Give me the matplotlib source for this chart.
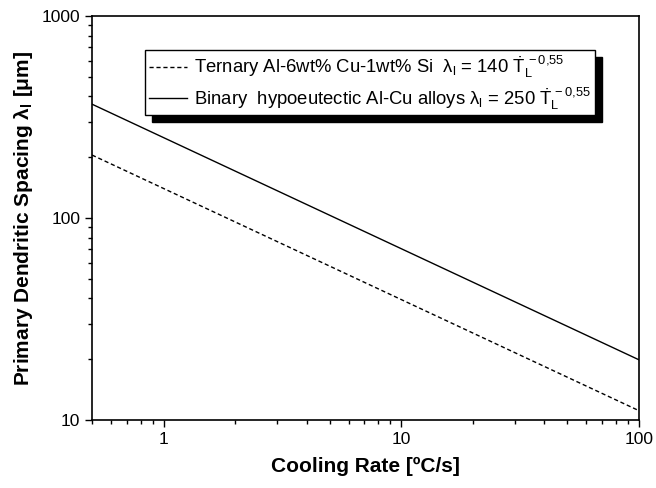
import numpy as np
import matplotlib
matplotlib.use("Agg")
import matplotlib.pyplot as plt
from matplotlib.ticker import FixedLocator, NullFormatter, LogLocator

plt.rcParams['font.family'] = ['Liberation Sans', 'DejaVu Sans']
plt.rcParams['mathtext.fontset'] = 'custom'
plt.rcParams['mathtext.rm'] = 'Liberation Sans'
plt.rcParams['mathtext.it'] = 'Liberation Sans:italic'
plt.rcParams['mathtext.bf'] = 'Liberation Sans:bold'

# Data: power laws lambda = A * Tdot^b
cooling_rate = np.logspace(np.log10(0.5), np.log10(100), 200)
ternary_coef = 140
binary_coef = 250
exponent = -0.55
series_labels = [
    r"Ternary Al-6wt% Cu-1wt% Si  λ$_\mathrm{l}$ = 140 $\mathrm{\dot{T}_L^{\,-0{,}55}}$",
    r"Binary  hypoeutectic Al-Cu alloys λ$_\mathrm{l}$ = 250 $\mathrm{\dot{T}_L^{\,-0{,}55}}$",
]
x_ticks = [1, 10, 100]
x_ticklabels = ["1", "10", "100"]
y_ticks = [10, 100, 1000]
y_ticklabels = ["10", "100", "1000"]

fig = plt.figure(figsize=(6.56, 4.88), dpi=100)
ax = fig.add_axes([92/656, 1-420/488, (639-92)/656, (420-16)/488])

ax.plot(cooling_rate, ternary_coef * cooling_rate**exponent, 'k--', lw=1.0,
        dashes=(3, 2), label=series_labels[0])
ax.plot(cooling_rate, binary_coef * cooling_rate**exponent, 'k-', lw=1.0,
        label=series_labels[1])

ax.set_xscale('log')
ax.set_yscale('log')
ax.set_xlim(0.5, 100)
ax.set_ylim(10, 1000)

ax.xaxis.set_major_locator(FixedLocator(x_ticks))
ax.set_xticklabels(x_ticklabels)
ax.yaxis.set_major_locator(FixedLocator(y_ticks))
ax.set_yticklabels(y_ticklabels)
ax.xaxis.set_minor_locator(LogLocator(base=10, subs=np.arange(2, 10)))
ax.yaxis.set_minor_locator(LogLocator(base=10, subs=np.arange(2, 10)))
ax.xaxis.set_minor_formatter(NullFormatter())
ax.yaxis.set_minor_formatter(NullFormatter())

ax.tick_params(which='major', direction='out', length=5, width=1, labelsize=12.5, colors='black')
ax.tick_params(which='minor', direction='out', length=3, width=1)
ax.tick_params(top=False, right=False, which='both')
for s in ax.spines.values():
    s.set_linewidth(1.2)

ax.set_xlabel("Cooling Rate [ºC/s]", fontsize=15, fontweight='bold', labelpad=7)
ax.set_ylabel(r"Primary Dendritic Spacing λ$_\mathbf{l}$ [μm]", fontsize=15,
              fontweight='bold', labelpad=5)

leg = ax.legend(loc='upper left', bbox_to_anchor=((145-92)/547, (420-50)/404),
                borderaxespad=0, fontsize=13.3, frameon=True, fancybox=False,
                handlelength=2.1, handletextpad=0.35, borderpad=0.2, labelspacing=0.25,
                shadow={'ox': 5, 'oy': -5, 'color': 'black', 'alpha': 1})
leg.get_frame().set_edgecolor('black')
leg.get_frame().set_linewidth(1.0)
leg.get_frame().set_alpha(1)

fig.savefig("out.png", dpi=100)
